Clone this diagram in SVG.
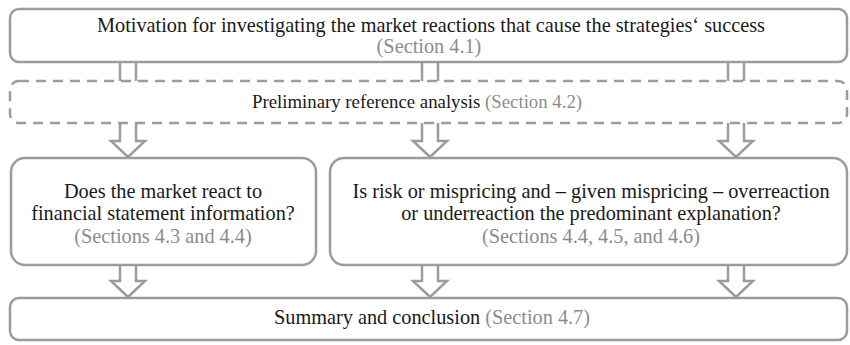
<svg xmlns="http://www.w3.org/2000/svg" width="850" height="345" viewBox="0 0 850 345" font-family="'Liberation Serif', 'DejaVu Serif', serif">
  <style>
    .box { fill: #ffffff; stroke: #9c9c9c; stroke-width: 2.5; }
    .dashed { stroke-dasharray: 10 7; }
    .arrow { fill: #ffffff; stroke: #9c9c9c; stroke-width: 2.5; stroke-linejoin: miter; }
    .t { font-family: 'Liberation Serif', 'DejaVu Serif', serif; font-size: 20.3px; fill: #1a1a1a; text-anchor: middle; }
    .small { font-size: 18.8px; }
    .s { fill: #8c8c8c; }
  </style>
  <rect width="850" height="345" fill="#ffffff"/>

  <!-- hollow block arrows between the stages -->
  <g id="connectors">
    <path class="arrow" d="M120,62 V141 H111 L128,157 L145,141 H136 V62"/>
    <path class="arrow" d="M422,62 V141 H413 L430,157 L447,141 H438 V62"/>
    <path class="arrow" d="M728,62 V141 H719 L736,157 L753,141 H744 V62"/>
    <path class="arrow" d="M120,266 V281 H111 L128,297 L145,281 H136 V266"/>
    <path class="arrow" d="M422,266 V281 H413 L430,297 L447,281 H438 V266"/>
    <path class="arrow" d="M728,266 V281 H719 L736,297 L753,281 H744 V266"/>
  </g>

  <g id="motivation">
    <rect class="box" x="10" y="9" width="837" height="53" rx="9"/>
    <text class="t" x="431" y="32">Motivation for investigating the market reactions that cause the strategies‘ success</text>
    <text class="t s" x="429" y="53">(Section 4.1)</text>
  </g>

  <g id="preliminary">
    <rect class="box dashed" x="10" y="81" width="837" height="42" rx="9"/>
    <text class="t small" x="417" y="108">Preliminary reference analysis <tspan class="s">(Section 4.2)</tspan></text>
  </g>

  <g id="market-reaction">
    <rect class="box" x="11" y="158" width="305" height="107" rx="14"/>
    <text class="t" x="163" y="198">Does the market react to</text>
    <text class="t" x="163" y="220">financial statement information?</text>
    <text class="t s" x="163" y="243">(Sections 4.3 and 4.4)</text>
  </g>

  <g id="explanation">
    <rect class="box" x="330" y="158" width="517" height="107" rx="14"/>
    <text class="t" x="591" y="198">Is risk or mispricing and – given mispricing – overreaction</text>
    <text class="t" x="591" y="220">or underreaction the predominant explanation?</text>
    <text class="t s" x="591" y="243">(Sections 4.4, 4.5, and 4.6)</text>
  </g>

  <g id="summary">
    <rect class="box" x="10" y="298" width="837" height="42" rx="9"/>
    <text class="t" x="432" y="324">Summary and conclusion <tspan class="s">(Section 4.7)</tspan></text>
  </g>
</svg>
